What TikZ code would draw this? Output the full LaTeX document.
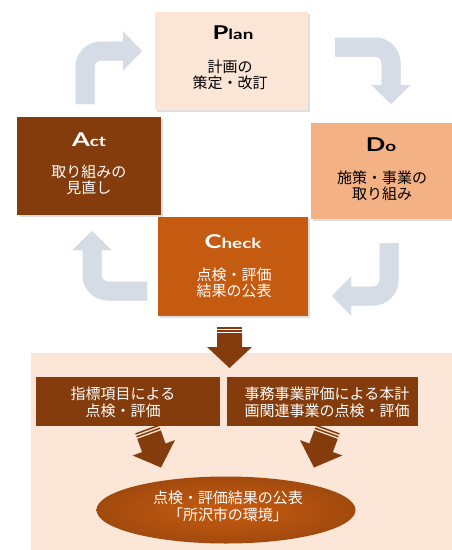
\documentclass[tikz,border=0pt]{standalone}
\usepackage{fontspec}
\newfontfamily\jp{Noto Sans CJK JP}
\newfontfamily\ttlfont{Lato}[FakeStretch=1.35]
\usetikzlibrary{arrows.meta,shadows,shapes.geometric}
\definecolor{planc}{HTML}{FBE5D6}
\definecolor{actc}{HTML}{843C0C}
\definecolor{doc}{HTML}{F4B183}
\definecolor{checkc}{HTML}{C55A11}
\definecolor{bgc}{HTML}{FBE6D8}
\definecolor{arrgray}{HTML}{D6DCE5}
\definecolor{brc}{HTML}{843C0C}
\newcommand\pdcatitle[2]{{\fontsize{19}{19}\selectfont #1}{\fontsize{14}{14}\selectfont #2}}
\tikzset{
  pdcabox/.style={draw=none, minimum width=#1, inner sep=0pt,
    drop shadow={shadow xshift=1.5pt, shadow yshift=-1.5pt, opacity=.25}},
  ttlnode/.style={font=\ttlfont\bfseries, inner sep=0pt},
  txtnode/.style={font=\jp\fontsize{15}{16}\selectfont, align=center, inner sep=0pt},
  btxt/.style={font=\jp\fontsize{15}{17.5}\selectfont, align=center, inner sep=0pt, text=white},
  grayarrow/.style={draw=arrgray, line width=19pt, rounded corners=16pt,
    -{Triangle[width=38pt,length=19pt]}},
  grayshadow/.style={draw=black, opacity=.08, line width=19pt, rounded corners=16pt,
    -{Triangle[width=38pt,length=19pt]}},
  brarrow/.pic={
    \fill[brc] (-12.5,0) rectangle (12.5,1.5);
    \fill[brc] (-12.5,3) rectangle (12.5,4.5);
    \fill[brc] (-12.5,6) -- (12.5,6) -- (12.5,20) -- (22.5,20) -- (0,41)
      -- (-22.5,20) -- (-12.5,20) -- cycle;
  }
}
\begin{document}
\begin{tikzpicture}[x=1pt,y=-1pt]
\useasboundingbox (0,0) rectangle (452,550);
\fill[white] (0,0) rectangle (452,550);
\fill[bgc] (31,353) rectangle (452,550);

% gray cycle arrows
\coordinate (a1s) at (85,104);
\coordinate (a1e) at (142,51);
\coordinate (a2s) at (335,47);
\coordinate (a2e) at (391,104);
\coordinate (a3s) at (389,243);
\coordinate (a3e) at (332,296);
\coordinate (a4s) at (147,291);
\coordinate (a4e) at (92,231);
\begin{scope}[shift={(1.5,1.5)}]
\draw[grayshadow] (a1s) |- (a1e);
\draw[grayshadow] (a2s) -| (a2e);
\draw[grayshadow] (a3s) |- (a3e);
\draw[grayshadow] (a4s) -| (a4e);
\end{scope}
\draw[grayarrow] (a1s) |- (a1e);
\draw[grayarrow] (a2s) -| (a2e);
\draw[grayarrow] (a3s) |- (a3e);
\draw[grayarrow] (a4s) -| (a4e);

% PDCA boxes
\node[pdcabox=153pt, minimum height=98pt, fill=planc] (plan) at (231.5,61) {};
\node[pdcabox=144pt, minimum height=98pt, fill=actc] (act) at (89,166) {};
\node[pdcabox=141pt, minimum height=96pt, fill=doc] (do) at (381.5,171) {};
\node[pdcabox=150pt, minimum height=99pt, fill=checkc] (check) at (233,266.5) {};

\node[ttlnode] (plant) at (233,33) {\pdcatitle{P}{lan}};
\node[txtnode] (planx) at (230,75) {計画の\\策定・改訂};
\node[ttlnode, text=white] (actt) at (89,140) {\pdcatitle{A}{ct}};
\node[txtnode, text=white] (actx) at (89,180) {取り組みの\\見直し};
\node[ttlnode] (dot) at (381,145) {\pdcatitle{D}{o}};
\node[txtnode] (dox) at (382,185.5) {施策・事業の\\取り組み};
\node[ttlnode, text=white] (checkt) at (233,242) {\pdcatitle{C}{heck}};
\node[txtnode, text=white] (checkx) at (234,282.5) {点検・評価\\結果の公表};

% bottom part
\pic at (229.5,327) {brarrow};
\node[fill=brc, minimum width=184pt, minimum height=49pt, inner sep=0pt] (b1) at (128,401.5) {};
\node[fill=brc, minimum width=191pt, minimum height=49pt, inner sep=0pt] (b2) at (322.5,401.5) {};
\node[btxt] (b1x) at (123,402.5) {指標項目による\\点検・評価};
\node[btxt] (b2x) at (327,402.5) {事務事業評価による本計\\画関連事業の点検・評価};
\pic[rotate=20] at (147,429) {brarrow};
\pic[rotate=-20] at (328,429) {brarrow};
\node[ellipse, minimum width=259pt, minimum height=67pt, inner sep=0pt,
  inner color=checkc!95!orange, outer color=checkc!82!black] (res) at (226,510) {};
\node[btxt] (resx) at (228,506.5) {点検・評価結果の公表\\「所沢市の環境」};
\end{tikzpicture}
\end{document}
